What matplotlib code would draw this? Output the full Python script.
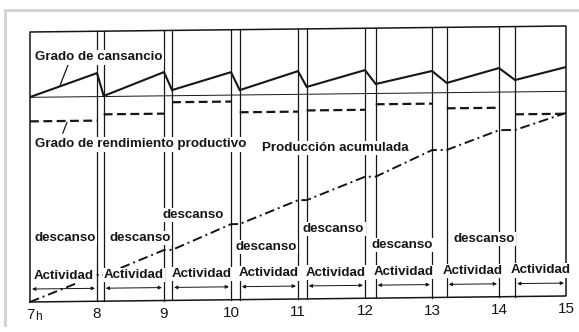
import numpy as np
import matplotlib.pyplot as plt
import matplotlib.transforms as mtransforms
from matplotlib.lines import Line2D

# --- data (y in % of frame height) ---
hours = [7, 8, 9, 10, 11, 12, 13, 14, 15]
hour_labels = ['7', '8', '9', '10', '11', '12', '13', '14', '15']
rest_start = [8, 9, 10, 11, 12, 13, 14]
rest_len = [0.10, 0.12, 0.13, 0.13, 0.16, 0.22, 0.24]

fatigue_low = [75.9, 76.0, 77.9, 77.6, 78.5, 79.3, 79.4, 80.2]
fatigue_peak = [84.5, 84.6, 84.3, 84.4, 84.5, 83.9, 84.7, 84.8]
fatigue_base = 75.8
performance = [66.9, 69.2, 73.4, 69.4, 69.8, 71.8, 70.0, 67.5]
production = [0, 9.7, 18.7, 28.0, 36.6, 45.0, 54.6, 61.7, 67.8]

desc_x = [7.52, 8.64, 9.44, 10.52, 11.53, 12.55, 13.78]
desc_y = [23.6, 23.3, 31.5, 19.4, 25.8, 19.6, 21.4]

# activity intervals between the rests
act_start = [7] + [s + l for s, l in zip(rest_start, rest_len)]
act_end = rest_start + [15]

ink = '#161616'
font = ['Liberation Sans', 'DejaVu Sans']

fig = plt.figure(figsize=(5.79, 3.32), dpi=100)
ax = fig.add_axes([30 / 579, 30 / 332, 536 / 579, 270 / 332])
ax.set_xlim(7, 15)
ax.set_ylim(0, 100)
ax.axis('off')

# the scan is slightly skewed: right side sits a few pixels higher
x0 = 30
shear = mtransforms.Affine2D().translate(-x0, 0).skew(0, np.arctan(6 / 536)).translate(x0, 0)
tr = ax.transData + shear

# light grey border of the scan
fig.add_artist(Line2D([5, 579], [322, 322], color='#d4d4d4', lw=2.2, transform=None))
fig.add_artist(Line2D([5, 5], [322, 7], color='#d4d4d4', lw=2.2, transform=None))

# frame
ax.plot([7, 15, 15, 7, 7], [0, 0, 100, 100, 0], color=ink, lw=1.1, transform=tr, clip_on=False)

# rest periods: pairs of vertical lines
for s, l in zip(rest_start, rest_len):
    for xv in (s, s + l):
        ax.plot([xv, xv], [0, 100], color=ink, lw=0.9, transform=tr, clip_on=False)

# baseline of fatigue
ax.plot([7, 15], [fatigue_base, fatigue_base], color=ink, lw=0.7, transform=tr)

# fatigue curve
fx, fy = [], []
for i in range(len(act_start)):
    fx += [act_start[i], act_end[i]]
    fy += [fatigue_low[i], fatigue_peak[i]]
ax.plot(fx, fy, color=ink, lw=1.5, transform=tr, solid_joinstyle='miter')

# productive performance (dashed, only during activity)
for i in range(len(act_start)):
    ax.plot([act_start[i], act_end[i]], [performance[i], performance[i]], color=ink,
            lw=1.6, linestyle=(0, (4, 2)), transform=tr)

# cumulative production (dash-dot)
px, py = [], []
for i in range(len(act_start)):
    px += [act_start[i], act_end[i]]
    py += [production[i], production[i + 1]]
ax.plot(px, py, color=ink, lw=1.4, linestyle=(0, (5, 2, 1, 2)), transform=tr)

# pointers from labels
ax.plot([7.57, 7.45], [87.8, 80.2], color=ink, lw=0.9, transform=tr)
ax.plot([7.55, 7.49], [66.3, 62.4], color=ink, lw=0.9, transform=tr)

box = dict(fc='white', ec='none', pad=1.0)
tkw = dict(transform=tr, color=ink, fontsize=9.6, fontweight='bold', family=font)

ax.text(7.075, 90.6, 'Grado de cansancio', ha='left', va='center', bbox=box, zorder=5, **tkw)
ax.text(7.075, 58.4, 'Grado de rendimiento productivo', ha='left', va='center', bbox=box, zorder=5, **tkw)
ax.text(10.47, 56.1, 'Producción acumulada', ha='left', va='center', bbox=box, zorder=5, **tkw)

for xd, yd in zip(desc_x, desc_y):
    ax.text(xd, yd, 'descanso', ha='center', va='center', bbox=box, zorder=5, **tkw)

# activity brackets
for a, b in zip(act_start, act_end):
    ax.text((a + b) / 2, 9.6, 'Actividad', ha='center', va='center', bbox=box, zorder=5, **tkw)
    ax.annotate('', xy=(b - 0.03, 4.8), xytext=(a + 0.03, 4.8), xycoords=tr, textcoords=tr,
                arrowprops=dict(arrowstyle='<|-|>', color=ink, lw=0.7, shrinkA=0, shrinkB=0,
                                mutation_scale=5))

# hour labels
for h, lab in zip(hours, hour_labels):
    ax.text(h, -4.9, lab, ha='center', va='center', transform=tr, color=ink,
            fontsize=11, family=font, clip_on=False)
ax.text(7.08, -5.6, 'h', ha='left', va='center', transform=tr, color=ink,
        fontsize=8.5, family=font, clip_on=False)

fig.savefig('out.png', dpi=100)
